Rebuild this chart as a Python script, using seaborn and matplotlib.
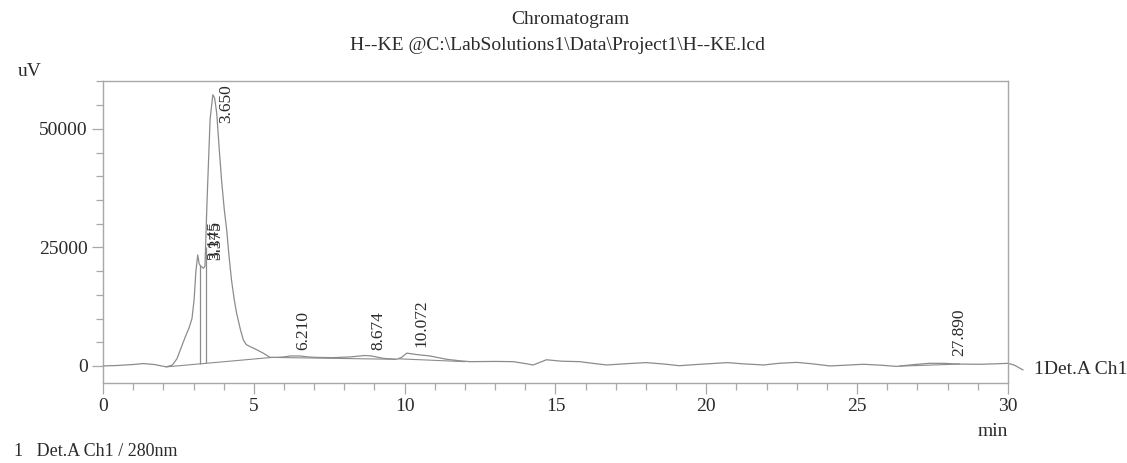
import numpy as np
import pandas as pd
import matplotlib
matplotlib.use("Agg")
import matplotlib.pyplot as plt
from matplotlib.ticker import MultipleLocator
import seaborn as sns

# ---------------- data ----------------
time_min = [0.0, 0.5, 1.0, 1.33, 1.7, 2.1, 2.3, 2.45, 2.6, 2.72, 2.85, 2.95, 3.02, 3.08,
            3.14, 3.19, 3.25, 3.33, 3.38, 3.45, 3.55, 3.64, 3.70, 3.77, 3.85, 3.93, 4.02,
            4.10, 4.18, 4.26, 4.35, 4.43, 4.55, 4.65, 4.75, 4.87, 5.1, 5.31, 5.54, 5.75,
            6.0, 6.21, 6.53, 6.8, 7.08, 7.63, 8.2, 8.674, 8.9, 9.29, 9.73, 9.9, 10.07,
            10.4, 10.84, 11.39, 11.8, 12.16, 13.0, 13.6, 14.0, 14.26, 14.5, 14.7, 15.2,
            15.8, 16.3, 16.7, 17.3, 18.0, 18.6, 19.1, 19.8, 20.7, 21.2, 21.9, 22.4, 23.0,
            23.5, 24.1, 24.6, 25.2, 25.8, 26.3, 26.9, 27.4, 27.89, 28.3, 29.1, 29.6, 30.0,
            30.2, 30.5]
signal_uv = [0, 100, 300, 500, 300, -200, 200, 1500, 4000, 6000, 8000, 10000, 14000, 20000,
             23400, 21500, 21000, 20600, 21000, 35000, 52000, 57200, 56500, 53300, 46000, 39200, 33000,
             28700, 23000, 18100, 14000, 11100, 7800, 5500, 4500, 4100, 3400, 2700, 1800, 1800,
             1900, 2100, 2100, 1900, 1800, 1750, 1900, 2200, 2100, 1600, 1400, 1800, 2700,
             2400, 2100, 1400, 1100, 900, 950, 900, 500, 200, 800, 1300, 1000,
             900, 500, 200, 450, 700, 400, 50, 350, 700, 450, 200, 550, 750,
             450, 0, 150, 350, 150, -100, 300, 550, 550, 400, 350, 450, 550,
             200, -850]

# integration baselines (start/end time, start/end level)
base_t0 = [2.1, 5.6, 9.8, 26.4]
base_t1 = [5.6, 9.7, 12.0, 28.4]
base_v0 = [-200, 1800, 1500, -50]
base_v1 = [1800, 1400, 900, 400]

# peak separation (drop) lines
drop_t = [3.22, 3.40]

# peak labels
peak_names = ["3.145", "3.375", "3.650", "6.210", "8.674", "10.072", "27.890"]
peak_rt = [3.145, 3.375, 3.650, 6.210, 8.674, 10.072, 27.890]

x_ticks = [0, 5, 10, 15, 20, 25, 30]
y_ticks = [0, 25000, 50000]

# ---------------- style ----------------
sns.set_theme(style="white")
plt.rcParams["font.family"] = ["Liberation Serif", "DejaVu Serif"]

LINE = "#8c8c8c"
SPINE = "#a8a8a8"
TXT = "#2b2b2b"

fig = plt.figure(figsize=(11.27, 4.63), dpi=100)
ax = fig.add_axes([103 / 1127, 1 - 383 / 463, 905 / 1127, 302 / 463])

df = pd.DataFrame({"t": time_min, "v": signal_uv})
sns.lineplot(data=df, x="t", y="v", ax=ax, color=LINE, linewidth=0.9,
             sort=False, estimator=None, clip_on=False)
ax.lines[-1].set_clip_on(False)

for t0, t1, v0, v1 in zip(base_t0, base_t1, base_v0, base_v1):
    ax.plot([t0, t1], [v0, v1], color=LINE, linewidth=0.8)

bt = np.concatenate([[a, b] for a, b in zip(base_t0, base_t1)])
bv = np.concatenate([[a, b] for a, b in zip(base_v0, base_v1)])
for t in drop_t:
    ax.vlines(t, np.interp(t, bt, bv), np.interp(t, time_min, signal_uv),
              color=LINE, linewidth=0.9)

# label placement (layout)
label_x = [3.70, 3.74, 4.10, 6.64, 9.12, 10.56, 28.38]
label_y = [22300, 22300, 51300, 3400, 3400, 4000, 2000]
for name, lx, ly in zip(peak_names, label_x, label_y):
    ax.text(lx, ly, name, rotation=90, ha="center", va="bottom",
            fontsize=12.5, color=TXT)

ax.set_xlim(0, 30)
ax.set_ylim(-3600, 60100)
ax.set_xticks(x_ticks)
ax.set_yticks(y_ticks)
ax.xaxis.set_minor_locator(MultipleLocator(1))
ax.yaxis.set_minor_locator(MultipleLocator(5000))
ax.tick_params(axis="both", which="major", direction="out", length=8, width=0.9,
               color=SPINE, labelsize=14, labelcolor=TXT, pad=3)
ax.tick_params(axis="both", which="minor", direction="out", length=5, width=0.9,
               color=SPINE)
ax.tick_params(axis="x", which="both", bottom=True)
ax.tick_params(axis="y", which="both", left=True)
ax.set_xlabel("")
ax.set_ylabel("")
for s in ax.spines.values():
    s.set_visible(True)
    s.set_color(SPINE)
    s.set_linewidth(1.0)

fig.text(570 / 1127, 1 - 20 / 463, "Chromatogram", ha="center", va="center",
         fontsize=14, color=TXT)
fig.text(558 / 1127, 1 - 45 / 463, "H--KE @C:\\LabSolutions1\\Data\\Project1\\H--KE.lcd",
         ha="center", va="center", fontsize=14, color=TXT)
fig.text(18 / 1127, 1 - 72 / 463, "uV", ha="left", va="center", fontsize=14, color=TXT)
fig.text(1008 / 1127, 1 - 432 / 463, "min", ha="right", va="center", fontsize=14, color=TXT)
fig.text(1034 / 1127, 1 - 370 / 463, "1Det.A Ch1", ha="left", va="center",
         fontsize=14, color=TXT)
fig.text(14 / 1127, 1 - 452 / 463, "1   Det.A Ch1 / 280nm", ha="left", va="center",
         fontsize=13, color=TXT)

fig.savefig("out.png", dpi=100)
